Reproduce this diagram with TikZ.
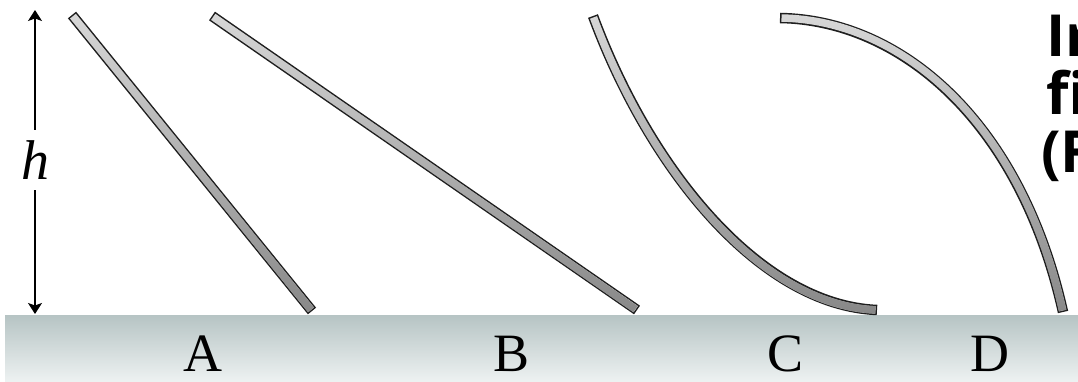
\documentclass[tikz,border=0pt]{standalone}
\usepackage{fontspec}
\setmainfont{Liberation Serif}
\newfontfamily\boldsans{Open Sans}
\usetikzlibrary{arrows.meta,fadings}
\definecolor{groundtop}{HTML}{B6C4C4}
\definecolor{groundbot}{HTML}{EEF2F2}
\definecolor{rodlight}{HTML}{D8D8D8}
\definecolor{roddark}{HTML}{888888}
\definecolor{rodedge}{HTML}{1E1E1E}
\begin{document}
\begin{tikzpicture}[x=1pt,y=-1pt,
  rodout/.style={line width=10.5pt, draw=rodedge},
  rodin/.style={line width=7.5pt, draw=rodlight, shorten <=1.5pt, shorten >=1.5pt},
  roddk/.style={line width=7.5pt, draw=roddark, shorten <=1.5pt, shorten >=1.5pt, path fading=north},
  lbl/.style={font=\fontsize{54}{54}\selectfont, anchor=base},
  side/.style={font=\boldsans\bfseries\fontsize{58}{58}\selectfont, anchor=base west, inner sep=0pt},
  harrow/.style={line width=1.3pt, {Stealth[length=11pt,width=14pt,inset=2.5pt]}-{Stealth[length=11pt,width=14pt,inset=2.5pt]}}]
\useasboundingbox (0,0) rectangle (1078,382);
\clip (0,0) rectangle (1078,382);
% ground
\shade[top color=groundtop, bottom color=groundbot] (5,315) rectangle (1078,382);
% height arrow
\coordinate (htop) at (35,10);
\coordinate (hbot) at (35,314);
\draw[harrow] (htop) -- (hbot);
\node[fill=white, inner sep=0pt, minimum height=60pt, minimum width=36pt, font=\fontsize{56}{56}\selectfont] (h) at (35,160) {\textit{h}};
% rod A
\coordinate (a1) at (72,15); \coordinate (a2) at (312,311);
\draw[rodout] (a1) -- (a2);
\draw[rodin] (a1) -- (a2);
\draw[roddk] (a1) -- (a2);
% rod B
\coordinate (b1) at (212,16); \coordinate (b2) at (637,310);
\draw[rodout] (b1) -- (b2);
\draw[rodin] (b1) -- (b2);
\draw[roddk] (b1) -- (b2);
% rod C
\coordinate (c1) at (593,16); \coordinate (c2) at (877,310);
\draw[rodout] (c1) .. controls (650,170) and (760,305) .. (c2);
\draw[rodin] (c1) .. controls (650,170) and (760,305) .. (c2);
\draw[roddk] (c1) .. controls (650,170) and (760,305) .. (c2);
% rod D
\coordinate (d1) at (780,18); \coordinate (d2) at (1063,312);
\draw[rodout] (d1) .. controls (900,20) and (1020,120) .. (d2);
\draw[rodin] (d1) .. controls (900,20) and (1020,120) .. (d2);
\draw[roddk] (d1) .. controls (900,20) and (1020,120) .. (d2);
% labels
\node[lbl] (lA) at (203,371) {A};
\node[lbl] (lB) at (512,371) {B};
\node[lbl] (lC) at (785,371) {C};
\node[lbl] (lD) at (990,371) {D};
% side text
\node[side] (s1) at (1046,57) {Ir};
\node[side] (s2) at (1046,115) {fi};
\node[side] (s3) at (1041,172) {(F};
\end{tikzpicture}
\end{document}
